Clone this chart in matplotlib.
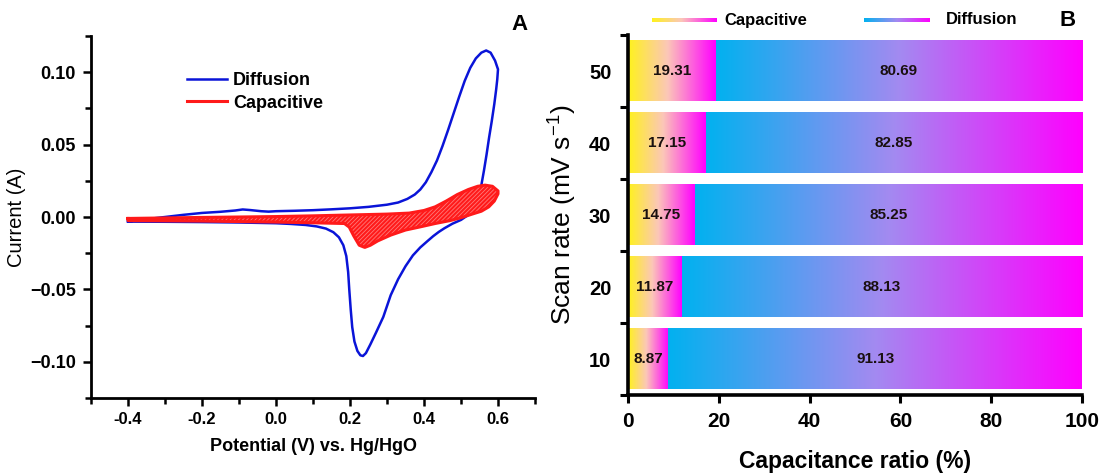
import numpy as np
import matplotlib
matplotlib.use('Agg')
import matplotlib.pyplot as plt
from matplotlib.colors import LinearSegmentedColormap

plt.rcParams['font.family'] = ['Liberation Sans', 'DejaVu Sans']
plt.rcParams['font.weight'] = 'bold'
plt.rcParams['mathtext.default'] = 'regular'
plt.rcParams['hatch.linewidth'] = 0.6

# CV loop, total current (V vs Hg/HgO, A)
diff_v = [-0.400, -0.350, -0.300, -0.250, -0.200, -0.150, -0.110, -0.090, -0.070, -0.040,
          -0.020, 0.000, 0.050, 0.100, 0.150, 0.200, 0.250, 0.300, 0.330, 0.355,
          0.375, 0.390, 0.405, 0.420, 0.435, 0.450, 0.465, 0.480, 0.495, 0.510,
          0.525, 0.540, 0.555, 0.568, 0.580, 0.592, 0.600,
          0.598, 0.595, 0.590, 0.583, 0.576, 0.569, 0.562, 0.555, 0.547, 0.535,
          0.520, 0.500, 0.477, 0.455, 0.440, 0.425, 0.410, 0.390, 0.370, 0.350, 0.330,
          0.310, 0.290, 0.270, 0.255, 0.243, 0.235, 0.228, 0.220, 0.212, 0.206,
          0.202, 0.198, 0.195, 0.190, 0.182, 0.170, 0.155, 0.135, 0.110, 0.080,
          0.040, 0.000, -0.100, -0.200, -0.300, -0.400]
diff_i = [-0.0030, -0.0015, 0.0000, 0.0015, 0.0028, 0.0036, 0.0045, 0.0052, 0.0048, 0.0040,
          0.0037, 0.0040, 0.0043, 0.0047, 0.0053, 0.0060, 0.0070, 0.0085, 0.0100, 0.0125,
          0.0155, 0.0190, 0.0240, 0.0310, 0.0390, 0.0490, 0.0600, 0.0715, 0.0830, 0.0940,
          0.1030, 0.1095, 0.1135, 0.1150, 0.1135, 0.1080, 0.1020,
          0.0950, 0.0880, 0.0780, 0.0660, 0.0550, 0.0430, 0.0320, 0.0220, 0.0130, 0.0060,
          0.0015, -0.0020, -0.0046, -0.0078, -0.0103, -0.0132, -0.0165, -0.0210, -0.0265, -0.0340, -0.0430,
          -0.0540, -0.0690, -0.0800, -0.0880, -0.0940, -0.0960, -0.0955, -0.0925, -0.0860, -0.0760,
          -0.0640, -0.0500, -0.0380, -0.0270, -0.0195, -0.0140, -0.0105, -0.0080, -0.0065, -0.0055,
          -0.0048, -0.0043, -0.0038, -0.0035, -0.0033, -0.0032]

# capacitive contribution (closed region)
cap_v = [-0.400, -0.200, 0.000, 0.100, 0.200, 0.300, 0.360, 0.400, 0.430, 0.460,
         0.490, 0.520, 0.545, 0.565, 0.585, 0.600,
         0.600, 0.590, 0.575, 0.555, 0.530, 0.500, 0.470, 0.430, 0.390, 0.350,
         0.310, 0.275, 0.255, 0.240, 0.225, 0.210, 0.198, 0.185, 0.100, 0.000,
         -0.200, -0.400]
cap_i = [-0.0010, -0.0003, 0.0003, 0.0008, 0.0014, 0.0020, 0.0027, 0.0045, 0.0070, 0.0110,
         0.0155, 0.0190, 0.0212, 0.0220, 0.0212, 0.0180,
         0.0160, 0.0110, 0.0070, 0.0040, 0.0020, -0.0005, -0.0025, -0.0045, -0.0068, -0.0090,
         -0.0125, -0.0165, -0.0195, -0.0210, -0.0195, -0.0130, -0.0070, -0.0045, -0.0040, -0.0035,
         -0.0028, -0.0025]

# contribution ratio per scan rate
scan_rates = ['10', '20', '30', '40', '50']
capacitive = [8.87, 11.87, 14.75, 17.15, 19.31]
diffusion = [91.13, 88.13, 85.25, 82.85, 80.69]

cap_cmap = LinearSegmentedColormap.from_list('cap', [(0, '#fff21c'), (0.45, '#fbc7b8'), (1, '#ff00ff')])
dif_cmap = LinearSegmentedColormap.from_list('dif', [(0, '#02b1ef'), (0.5, '#a38af1'), (1, '#ff00ff')])
grad = np.linspace(0, 1, 256).reshape(1, -1)


def style_spines(ax, lw):
    for s in ['top', 'right']:
        ax.spines[s].set_visible(False)
    for s in ['left', 'bottom']:
        ax.spines[s].set_linewidth(lw)


def plot_cv(ax):
    ax.plot(diff_v, diff_i, color='#0a14d8', lw=1.8, label='Diffusion', zorder=3)
    ax.fill(cap_v, cap_i, facecolor='#ff1a1a', edgecolor='none', zorder=4)
    ax.fill(cap_v, cap_i, facecolor='none', edgecolor='#ff7a7a', hatch='////////', lw=0, zorder=5)
    ax.plot(cap_v + cap_v[:1], cap_i + cap_i[:1], color='#ff1a1a', lw=2.2, label='Capacitive', zorder=6)

    ax.set_xlim(-0.5, 0.7)
    ax.set_ylim(-0.125, 0.125)
    ax.set_xticks([-0.4, -0.2, 0.0, 0.2, 0.4, 0.6])
    ax.set_xticks(np.arange(-0.5, 0.71, 0.1), minor=True)
    ax.set_yticks([-0.10, -0.05, 0.00, 0.05, 0.10])
    ax.set_yticks(np.arange(-0.125, 0.126, 0.025), minor=True)
    ax.set_xticklabels(['-0.4', '-0.2', '0.0', '0.2', '0.4', '0.6'])
    ax.set_yticklabels(['\u22120.10', '\u22120.05', '0.00', '0.05', '0.10'])
    ax.tick_params(which='both', direction='out', width=1.8)
    ax.tick_params(axis='x', labelsize=12, pad=4)
    ax.tick_params(axis='y', labelsize=13, pad=5)
    ax.tick_params(which='major', length=6)
    ax.tick_params(which='minor', length=4)
    style_spines(ax, 2)
    ax.set_xlabel('Potential (V) vs. Hg/HgO', fontsize=13, fontweight='bold', labelpad=8)
    ax.set_ylabel('Current (A)', fontsize=14.5, fontweight='normal')
    ax.yaxis.set_label_coords(-0.146, 0.5)
    ax.legend(loc='upper left', bbox_to_anchor=(0.216, 0.9), frameon=False,
              handlelength=2.2, handletextpad=0.35, labelspacing=0.3, borderpad=0, borderaxespad=0,
              prop={'weight': 'bold', 'size': 13})


def plot_ratio(ax):
    h = 0.84
    for i in range(len(scan_rates)):
        c, d = capacitive[i], diffusion[i]
        ax.imshow(grad, cmap=cap_cmap, extent=[0, c, i - h / 2, i + h / 2], aspect='auto', zorder=2)
        ax.imshow(grad, cmap=dif_cmap, extent=[c, c + d, i - h / 2, i + h / 2], aspect='auto', zorder=2)
        ax.text(c / 2, i, '{:.2f}'.format(c), ha='center', va='center', fontsize=11, fontweight='bold', color='#1a1010', zorder=3)
        ax.text(c + d / 2, i, '{:.2f}'.format(d), ha='center', va='center', fontsize=11, fontweight='bold', color='#1a1010', zorder=3)

    ax.set_xlim(0, 100)
    ax.set_ylim(-0.5, 4.5)
    ax.set_xticks([0, 20, 40, 60, 80, 100])
    ax.set_yticks(range(len(scan_rates)))
    ax.set_yticklabels(scan_rates)
    ax.set_yticks(np.arange(-0.5, 4.6, 1), minor=True)
    ax.tick_params(axis='x', direction='out', length=6, width=2.2, labelsize=15, pad=6)
    ax.tick_params(axis='y', which='major', length=0, labelsize=14.5, pad=12)
    ax.tick_params(axis='y', which='minor', direction='out', length=6, width=2.2)
    style_spines(ax, 2.6)
    ax.set_xlabel('Capacitance ratio (%)', fontsize=16.5, fontweight='bold', labelpad=14)
    ax.set_ylabel('Scan rate (mV s$^{-1}$)', fontsize=19, fontweight='normal')
    ax.yaxis.set_label_coords(-0.108, 0.5)


fig = plt.figure(figsize=(11.01, 4.73), dpi=100)
W, H = 1101, 473
ax_a = fig.add_axes([91 / W, 1 - 398 / H, 444 / W, 362 / H])
ax_b = fig.add_axes([628 / W, 1 - 395 / H, 454 / W, 360 / H])
plot_cv(ax_a)
plot_ratio(ax_b)

# gradient swatches for the legend above the bars
for x0, x1, cmap, label, tx in [(652, 717, cap_cmap, 'Capacitive', 724),
                                 (864, 930, dif_cmap, 'Diffusion', 946)]:
    sw = fig.add_axes([x0 / W, 1 - 22 / H, (x1 - x0) / W, 3.5 / H])
    sw.imshow(grad, cmap=cmap, aspect='auto')
    sw.axis('off')
    fig.text(tx / W, 1 - 20 / H, label, fontsize=12, fontweight='bold', ha='left', va='center')

fig.text(520 / W, 1 - 25 / H, 'A', fontsize=16, fontweight='bold', ha='center', va='center')
fig.text(1068 / W, 1 - 20 / H, 'B', fontsize=16, fontweight='bold', ha='center', va='center')

fig.savefig('out.png', dpi=100)
